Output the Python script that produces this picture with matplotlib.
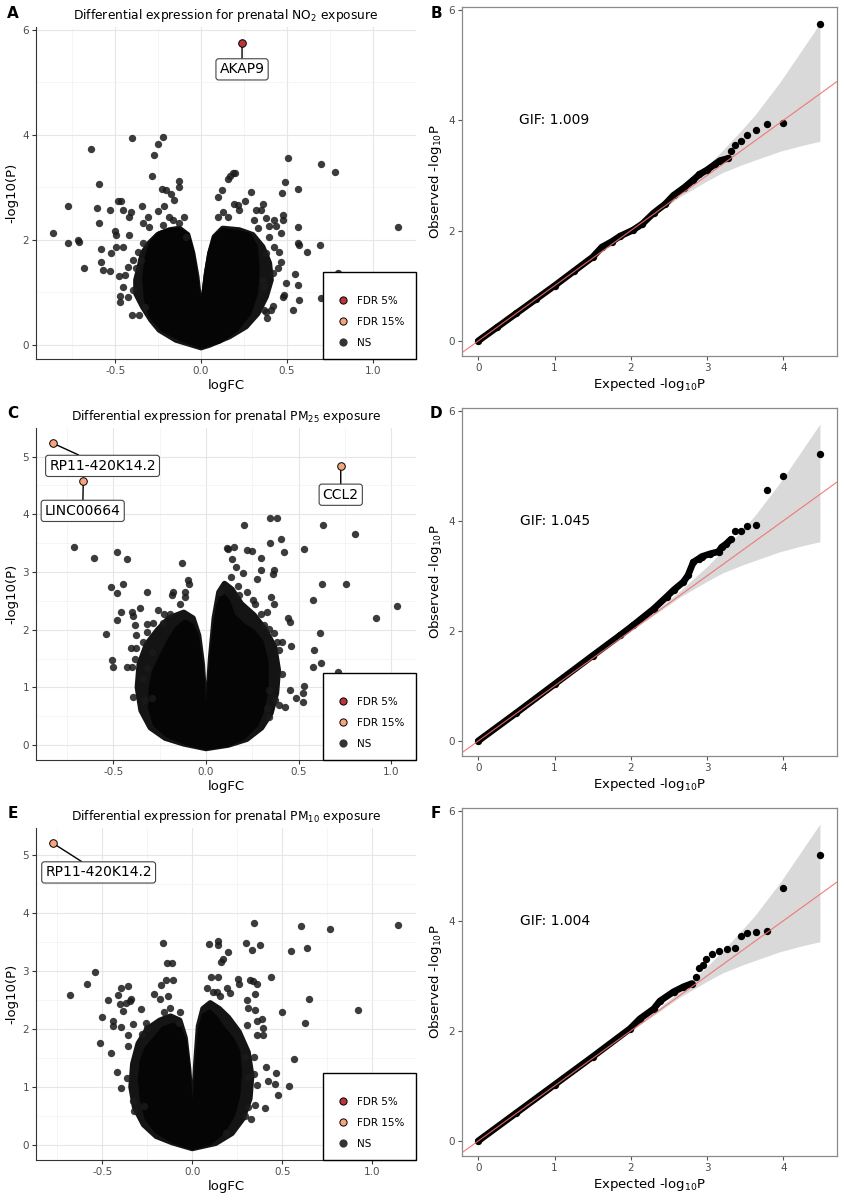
import matplotlib
matplotlib.use('Agg')
import matplotlib.pyplot as plt
from matplotlib.lines import Line2D
from matplotlib.ticker import MultipleLocator

plt.rcParams['font.family'] = 'DejaVu Sans'
plt.rcParams['mathtext.default'] = 'regular'

# ---- volcano data (logFC, -log10 P) ----
# NO2: scattered points outside the dense core
no2_fc = [-0.86, -0.775, -0.775, -0.718, -0.709, -0.68, -0.639, -0.606, -0.596, -0.592,
          -0.583, -0.583, -0.573, -0.53, -0.526, -0.53, -0.501, -0.495, -0.485, -0.466,
          -0.452, -0.495, -0.48, -0.472, -0.472, -0.452, -0.421, -0.408, -0.404, -0.417,
          -0.398, -0.427, -0.441, -0.456, -0.402, -0.363, -0.344, -0.34, -0.34, -0.369,
          -0.35, -0.379, -0.398, -0.427, -0.326, -0.311, -0.301, -0.285, -0.272, -0.249,
          -0.223, -0.252, -0.227, -0.204, -0.214, -0.175, -0.155, -0.13, -0.13, -0.165,
          -0.097, -0.126, -0.184, -0.223, -0.087,
          0.097, 0.12, 0.157, 0.169, 0.188, 0.2, 0.097, 0.126, 0.155, 0.194,
          0.217, 0.291, 0.256, 0.223, 0.32, 0.35, 0.363, 0.379, 0.427, 0.311,
          0.33, 0.398, 0.437, 0.466, 0.48, 0.48, 0.47, 0.489, 0.509, 0.567,
          0.563, 0.565, 0.573, 0.616, 0.699, 0.695, 0.783, 0.548, 0.563, 0.573,
          0.534, 0.495, 0.485, 0.476, 0.421, 0.382, 0.379, 0.408, 0.365, 0.466,
          0.447, 0.456, 0.427, 0.398, 0.417, 0.379, 0.359, 0.369, 0.699, 1.146, 0.8]
no2_p = [2.14, 2.65, 1.94, 2.0, 1.97, 1.47, 3.73, 2.60, 3.07, 2.32,
         1.83, 1.59, 1.43, 2.57, 1.76, 1.40, 2.17, 2.10, 2.74, 2.74,
         2.57, 1.87, 1.31, 0.93, 0.81, 1.87, 2.44, 2.54, 3.95, 2.10,
         1.62, 1.49, 1.33, 1.11, 0.57, 0.57, 2.65, 2.32, 1.94, 1.78,
         1.62, 1.46, 1.05, 0.92, 0.73, 2.44, 2.25, 3.21, 3.62, 3.83,
         3.96, 2.56, 2.98, 2.95, 2.65, 2.88, 2.77, 3.13, 3.0, 2.38,
         2.43, 2.33, 2.44, 2.29, 2.06,
         2.81, 2.95, 3.16, 3.21, 3.28, 3.28, 2.44, 2.54, 2.44, 2.69,
         2.67, 2.91, 2.75, 2.57, 2.58, 2.58, 2.69, 2.41, 2.38, 2.38,
         2.22, 2.27, 2.27, 2.13, 2.48, 2.39, 2.89, 3.10, 3.57, 2.97,
         2.24, 1.95, 1.90, 1.78, 3.45, 1.90, 3.29, 1.35, 1.15, 0.85,
         0.67, 1.19, 0.95, 0.92, 0.75, 0.51, 0.63, 0.67, 0.67, 1.59,
         1.46, 1.78, 1.87, 2.06, 1.37, 1.75, 1.24, 1.11, 0.90, 2.25, 1.38]
# outline of the crowded fringe and of the fully overlapped core
no2_fringe_fc = [0.0, -0.146, -0.243, -0.291, -0.34, -0.379, -0.379, -0.359, -0.34, -0.301,
                 -0.252, -0.184, -0.126, -0.078, -0.049, -0.025, -0.01, 0.0, 0.014, 0.033,
                 0.052, 0.078, 0.126, 0.223, 0.301, 0.359, 0.398, 0.408, 0.379, 0.33,
                 0.262, 0.165, 0.049]
no2_fringe_p = [-0.05, 0.095, 0.286, 0.476, 0.73, 0.98, 1.24, 1.49, 1.75, 1.94,
                2.10, 2.19, 2.22, 2.10, 1.75, 1.30, 0.857, 0.41, 0.857, 1.37,
                1.75, 2.06, 2.22, 2.19, 2.10, 1.87, 1.56, 1.24, 0.92, 0.60,
                0.35, 0.16, 0.0]
no2_core_fc = [0.0, -0.107, -0.223, -0.291, -0.32, -0.33, -0.32, -0.291, -0.243, -0.184,
               -0.126, -0.078, -0.049, -0.029, -0.01, 0.0, 0.01, 0.029, 0.049, 0.078,
               0.126, 0.204, 0.281, 0.32, 0.33, 0.32, 0.281, 0.204, 0.107]
no2_core_p = [-0.03, 0.095, 0.286, 0.54, 0.857, 1.24, 1.62, 1.94, 2.13, 2.19,
              2.19, 2.1, 1.75, 1.30, 0.857, 0.41, 0.857, 1.37, 1.75, 2.06,
              2.19, 2.16, 2.1, 1.87, 1.43, 0.98, 0.60, 0.286, 0.064]

# PM2.5
pm25_fc = [-0.71, -0.604, -0.48, -0.426, -0.51, -0.45, -0.482, -0.478, -0.46, -0.54,
           -0.505, -0.504, -0.428, -0.392, -0.401, -0.392, -0.356, -0.32, -0.383, -0.378,
           -0.405, -0.378, -0.385, -0.401, -0.338, -0.32, -0.317, -0.257, -0.225, -0.293,
           -0.32, -0.338, -0.329, -0.293, -0.129, -0.095, -0.09, -0.176, -0.185, -0.113,
           -0.14, -0.113, -0.194, -0.234, -0.284,
           0.203, 0.345, 0.383, 0.344, 0.405, 0.423, 0.112, 0.121, 0.151, 0.219,
           0.25, 0.138, 0.16, 0.201, 0.295, 0.295, 0.369, 0.36, 0.273, 0.133,
           0.174, 0.18, 0.076, 0.219, 0.255, 0.264, 0.349, 0.367, 0.327, 0.297,
           0.315, 0.342, 0.369, 0.381, 0.408, 0.396, 0.459, 0.444, 0.453, 0.527,
           0.631, 0.804, 0.624, 0.755, 0.579, 0.617, 0.583, 0.622, 0.579, 0.712,
           0.915, 1.032, 0.529, 0.522, 0.484, 0.522, 0.453, 0.412, 0.396, 0.426,
           0.342, 0.327, 0.372, 0.342]
pm25_p = [3.44, 3.25, 3.35, 3.23, 2.74, 2.80, 2.63, 2.17, 2.30, 1.92,
          1.47, 1.35, 1.36, 0.84, 2.31, 2.23, 2.38, 2.66, 2.08, 1.91,
          1.69, 1.68, 1.49, 1.35, 1.78, 2.10, 1.96, 2.34, 2.27, 1.62,
          1.33, 1.16, 0.78, 0.81, 3.15, 2.86, 2.80, 2.66, 2.60, 2.57,
          2.45, 2.66, 2.28, 2.11, 2.11,
          3.82, 3.93, 3.94, 3.51, 3.57, 3.34, 3.41, 3.40, 3.44, 3.39,
          3.37, 3.23, 3.08, 2.98, 3.24, 3.03, 3.04, 2.96, 2.87, 2.91,
          2.75, 2.60, 2.66, 2.66, 2.51, 2.45, 2.56, 2.44, 2.31, 2.28,
          2.08, 2.02, 1.95, 1.79, 1.79, 1.65, 1.72, 2.21, 2.14, 3.40,
          3.82, 3.66, 2.79, 2.79, 2.51, 1.95, 1.65, 1.43, 1.35, 1.27,
          2.20, 2.41, 1.03, 0.91, 0.82, 0.74, 0.95, 1.23, 0.70, 0.66,
          0.48, 0.64, 0.78, 0.95]
pm25_fringe_fc = [0.0, -0.12, -0.22, -0.3, -0.35, -0.37, -0.36, -0.32, -0.26, -0.2,
                  -0.12, -0.07, -0.04, -0.02, -0.008, 0.0, 0.01, 0.025, 0.045, 0.07,
                  0.1, 0.14, 0.19, 0.26, 0.32, 0.37, 0.39, 0.38, 0.35, 0.3,
                  0.22, 0.12]
pm25_fringe_p = [-0.06, 0.02, 0.12, 0.3, 0.6, 1.0, 1.4, 1.75, 2.0, 2.2,
                 2.3, 2.2, 1.9, 1.4, 0.8, 0.35, 0.8, 1.5, 2.2, 2.65,
                 2.8, 2.7, 2.45, 2.25, 2.0, 1.7, 1.3, 0.9, 0.55, 0.3,
                 0.1, 0.0]
pm25_core_fc = [0.0, -0.104, -0.212, -0.275, -0.302, -0.299, -0.281, -0.248, -0.203, -0.158,
                -0.113, -0.077, -0.05, -0.032, -0.018, -0.011, -0.002, 0.004, 0.013, 0.031,
                0.049, 0.067, 0.09, 0.12, 0.147, 0.201, 0.255, 0.30, 0.327, 0.327,
                0.309, 0.273, 0.201, 0.112]
pm25_core_p = [-0.05, 0.03, 0.17, 0.35, 0.64, 0.98, 1.27, 1.50, 1.79, 2.02,
               2.14, 2.08, 1.91, 1.56, 1.16, 0.69, 0.29, 0.29, 0.87, 1.56,
               2.08, 2.43, 2.60, 2.49, 2.25, 2.08, 1.97, 1.79, 1.45, 0.98,
               0.64, 0.35, 0.12, 0.0]

# PM10
pm10_fc = [-0.68, -0.583, -0.539, -0.511, -0.502, -0.47, -0.454, -0.443, -0.439, -0.42,
           -0.411, -0.402, -0.398, -0.396, -0.383, -0.37, -0.359, -0.398, -0.359, -0.356,
           -0.365, -0.346, -0.328, -0.343, -0.328, -0.324, -0.285, -0.281, -0.269, -0.257,
           -0.254, -0.213, -0.18, -0.176, -0.165, -0.159, -0.148, -0.143, -0.133, -0.111,
           -0.109, -0.124, -0.069, -0.072,
           0.093, 0.141, 0.144, 0.2, 0.169, 0.157, 0.102, 0.141, 0.08, 0.117,
           0.135, 0.154, 0.191, 0.209, 0.256, 0.261, 0.298, 0.33, 0.344, 0.376,
           0.32, 0.339, 0.357, 0.348, 0.302, 0.311, 0.348, 0.385, 0.391, 0.357,
           0.357, 0.394, 0.306, 0.437, 0.498, 0.546, 0.604, 0.637, 0.646, 0.624,
           0.765, 0.922, 1.141, 0.567, 0.535, 0.478, 0.463, 0.461, 0.422, 0.407,
           0.343, 0.311, 0.357, 0.406, 0.348, 0.311, 0.324, 0.293, 0.185, 0.293,
           0.343]
pm10_p = [2.59, 2.77, 2.98, 1.75, 2.21, 2.5, 1.59, 2.14, 2.05, 1.25,
          2.59, 2.43, 2.70, 0.99, 2.31, 2.44, 2.74, 2.04, 1.90, 1.70,
          1.16, 2.48, 2.08, 2.52, 0.76, 0.59, 2.34, 1.91, 0.67, 2.10,
          2.01, 2.60, 2.52, 2.76, 3.49, 2.29, 2.84, 3.14, 2.57, 3.13,
          2.84, 2.36, 2.29, 2.11,
          3.46, 3.51, 3.45, 3.32, 3.21, 3.16, 2.89, 2.89, 2.71, 2.64,
          2.64, 2.57, 2.70, 2.62, 2.86, 2.78, 3.48, 3.36, 3.82, 3.44,
          2.84, 2.82, 2.78, 2.60, 2.5, 2.36, 2.33, 2.17, 2.01, 2.13,
          1.90, 1.90, 2.07, 2.89, 2.29, 3.35, 3.77, 3.40, 2.51, 2.11,
          3.72, 2.33, 3.79, 1.48, 1.02, 0.86, 1.24, 1.06, 1.11, 1.34,
          1.22, 1.17, 1.03, 0.63, 0.69, 0.66, 0.44, 0.50, 0.21, 1.51,
          1.52]
pm10_fringe_fc = [0.0, -0.11, -0.2, -0.27, -0.32, -0.34, -0.33, -0.3, -0.25, -0.18,
                  -0.12, -0.07, -0.04, -0.02, -0.006, 0.0, 0.008, 0.02, 0.035, 0.06,
                  0.1, 0.15, 0.2, 0.26, 0.31, 0.33, 0.32, 0.28, 0.22, 0.13]
pm10_fringe_p = [-0.06, 0.04, 0.15, 0.35, 0.65, 1.0, 1.4, 1.75, 2.0, 2.15,
                 2.22, 2.15, 1.85, 1.3, 0.7, 0.3, 0.7, 1.4, 2.05, 2.35,
                 2.45, 2.35, 2.2, 1.95, 1.6, 1.2, 0.8, 0.45, 0.2, 0.03]
pm10_core_fc = [0.0, -0.106, -0.198, -0.254, -0.281, -0.291, -0.281, -0.254, -0.207, -0.161,
                -0.106, -0.069, -0.041, -0.022, -0.009, -0.004, 0.006, 0.015, 0.028, 0.043,
                0.065, 0.098, 0.135, 0.172, 0.219, 0.256, 0.265, 0.256, 0.228, 0.172,
                0.098]
pm10_core_p = [-0.05, 0.06, 0.23, 0.46, 0.80, 1.15, 1.44, 1.67, 1.84, 2.01,
               2.07, 2.01, 1.78, 1.32, 0.75, 0.34, 0.34, 0.86, 1.49, 2.01,
               2.24, 2.30, 2.18, 2.01, 1.84, 1.61, 1.26, 0.86, 0.52, 0.23,
               0.03]

# significant genes
no2_hit_names = ['AKAP9']
no2_hit_fc = [0.239]
no2_hit_p = [5.76]
no2_hit_class = ['FDR 5%']

pm25_hit_names = ['RP11-420K14.2', 'LINC00664', 'CCL2']
pm25_hit_fc = [-0.824, -0.662, 0.727]
pm25_hit_p = [5.23, 4.57, 4.83]
pm25_hit_class = ['FDR 15%', 'FDR 15%', 'FDR 15%']

pm10_hit_names = ['RP11-420K14.2']
pm10_hit_fc = [-0.772]
pm10_hit_p = [5.20]
pm10_hit_class = ['FDR 15%']

# ---- QQ data (expected, observed -log10 P) ----
no2_exp = [0, 0.25, 0.5, 0.75, 1.0, 1.25, 1.5, 1.62, 1.75, 1.86, 2.03, 2.15, 2.30, 2.45,
           2.56, 2.70, 2.82, 2.90, 3.0, 3.10, 3.17, 3.28,
           3.31, 3.37, 3.44, 3.53, 3.64, 3.78, 4.0, 4.48]
no2_obs = [0, 0.25, 0.5, 0.75, 1.0, 1.26, 1.52, 1.70, 1.80, 1.90, 2.01, 2.12, 2.32, 2.48,
           2.64, 2.78, 2.92, 3.02, 3.10, 3.20, 3.27, 3.31,
           3.45, 3.56, 3.62, 3.74, 3.83, 3.94, 3.95, 5.75]
no2_dense = 22

pm25_exp = [0, 0.5, 1.0, 1.5, 1.86, 2.03, 2.30, 2.47, 2.56, 2.69, 2.75, 2.82, 2.89, 2.93,
            3.04, 3.15, 3.19, 3.25, 3.31,
            3.37, 3.44, 3.53, 3.64, 3.78, 4.0, 4.48]
pm25_obs = [0, 0.51, 1.03, 1.55, 1.92, 2.10, 2.40, 2.62, 2.74, 2.89, 3.01, 3.25, 3.31, 3.35,
            3.40, 3.44, 3.52, 3.58, 3.66,
            3.81, 3.81, 3.90, 3.93, 4.56, 4.81, 5.21]
pm25_dense = 19

pm10_exp = [0, 0.5, 1.0, 1.5, 1.99, 2.12, 2.30, 2.38, 2.56, 2.69, 2.80,
            2.85, 2.89, 2.95, 2.99, 3.06, 3.15, 3.26, 3.37, 3.44, 3.53, 3.64, 3.78, 4.0, 4.48]
pm10_obs = [0, 0.51, 1.02, 1.53, 2.04, 2.22, 2.40, 2.54, 2.71, 2.80, 2.86,
            2.98, 3.14, 3.19, 3.31, 3.40, 3.46, 3.48, 3.50, 3.72, 3.77, 3.79, 3.82, 4.60, 5.20]
pm10_dense = 11

# confidence band shared by the three QQ plots
band_x = [0, 1.0, 2.0, 2.3, 2.65, 3.0, 3.2, 3.43, 3.63, 3.96, 4.26, 4.48]
band_hi = [0, 1.01, 2.02, 2.34, 2.73, 3.17, 3.45, 3.79, 4.10, 4.70, 5.31, 5.76]
band_lo = [0, 0.99, 1.99, 2.28, 2.62, 2.90, 3.05, 3.18, 3.28, 3.44, 3.55, 3.62]

gif_values = ['1.009', '1.045', '1.004']

class_colors = {'FDR 5%': '#b8353c', 'FDR 15%': '#f4a57c', 'NS': '#333333'}

W, H = 844, 1200
fig = plt.figure(figsize=(W / 100, H / 100), dpi=100)


def px_axes(left, top, right, bottom):
    return fig.add_axes([left / W, 1 - bottom / H, (right - left) / W, (bottom - top) / H])


def volcano(ax, fc, p, fringe_fc, fringe_p, core_fc, core_p, names, hfc, hp, hcls, offsets,
            title, xlim, ylim, ymajor):
    ax.set_axisbelow(True)
    ax.fill(fringe_fc, fringe_p, color='#141414', lw=4, ec='#141414', joinstyle='round', zorder=2)
    ax.fill(core_fc, core_p, color='#050505', lw=3, ec='#050505', joinstyle='round', zorder=2.5)
    ax.scatter(fc, p, s=28, color='#1a1a1a', alpha=0.85, lw=0, zorder=3)
    for name, x, y, c, (lx, ly) in zip(names, hfc, hp, hcls, offsets):
        ax.annotate(name, xy=(x, y), xytext=(lx, ly), ha='center', va='center', fontsize=10,
                    bbox=dict(boxstyle='round,pad=0.26,rounding_size=0.2', fc='white',
                              ec='#444444', lw=0.8),
                    arrowprops=dict(arrowstyle='-', color='black', lw=1.0,
                                    shrinkA=0, shrinkB=0), zorder=5)
        ax.scatter([x], [y], s=30, color=class_colors[c], edgecolors='black', lw=0.7, zorder=6)
    ax.set_xlim(xlim)
    ax.set_ylim(ylim)
    ax.xaxis.set_major_locator(MultipleLocator(0.5))
    ax.xaxis.set_minor_locator(MultipleLocator(0.25))
    ax.yaxis.set_major_locator(MultipleLocator(ymajor))
    ax.yaxis.set_minor_locator(MultipleLocator(ymajor / 2))
    ax.grid(which='major', color='#e6e6e6', lw=0.8)
    ax.grid(which='minor', color='#f2f2f2', lw=0.5)
    ax.tick_params(which='minor', length=0)
    ax.tick_params(which='major', length=3, color='#333333', labelsize=7.5,
                   labelcolor='#4d4d4d', width=0.8, pad=2)
    for s in ['top', 'right']:
        ax.spines[s].set_visible(False)
    for s in ['left', 'bottom']:
        ax.spines[s].set_color('#333333')
        ax.spines[s].set_linewidth(0.8)
    ax.set_xticklabels([('%.1f' % t) for t in ax.get_xticks()])
    ax.set_xlabel('logFC', fontsize=9.5, labelpad=2)
    ax.set_ylabel('-log10(P)', fontsize=9.5, labelpad=3)
    ax.set_title(title, fontsize=8.8, pad=6)
    handles = [Line2D([], [], marker='o', ls='none', markersize=5.2,
                      markerfacecolor=class_colors[k],
                      markeredgecolor='black' if k != 'NS' else '#333333', markeredgewidth=0.7)
               for k in ['FDR 5%', 'FDR 15%', 'NS']]
    leg = ax.legend(handles, ['FDR 5%', 'FDR 15%', 'NS'], loc='lower right',
                    bbox_to_anchor=(1.0, 0.0), borderaxespad=0, fontsize=7.5,
                    title=' ', title_fontsize=1, frameon=True, fancybox=False,
                    edgecolor='black', framealpha=1, labelspacing=1.05, borderpad=1.1,
                    handlelength=1.6, handletextpad=0.6)
    leg.get_frame().set_linewidth(1.0)
    leg.set_zorder(10)


def qq(ax, exp, obs, dense, gif):
    ax.fill_between(band_x, band_lo, band_hi, color='#d9d9d9', lw=0, zorder=1)
    ax.plot(exp[:dense], obs[:dense], color='black', lw=4.8, solid_capstyle='round',
            solid_joinstyle='round', zorder=2)
    ax.scatter(exp, obs, s=28, color='black', lw=0, zorder=3)
    ax.axline((0, 0), slope=1, color='#ef6f6a', lw=0.8, alpha=0.9, zorder=4)
    ax.set_xlim(-0.218, 4.70)
    ax.set_ylim(-0.275, 6.05)
    ax.xaxis.set_major_locator(MultipleLocator(1))
    ax.yaxis.set_major_locator(MultipleLocator(2))
    ax.text(1.0, 4.0, 'GIF: ' + gif, fontsize=10, ha='center', va='center')
    ax.tick_params(length=3, color='#555555', labelsize=7.5, labelcolor='#4d4d4d',
                   width=0.8, pad=2)
    for s in ax.spines.values():
        s.set_color('#8a8a8a')
        s.set_linewidth(0.9)
    ax.set_xlabel('Expected -log$_{10}$P', fontsize=9.5, labelpad=2)
    ax.set_ylabel('Observed -log$_{10}$P', fontsize=9.5, labelpad=3)


axA = px_axes(36, 27, 416, 359)
volcano(axA, no2_fc, no2_p, no2_fringe_fc, no2_fringe_p, no2_core_fc, no2_core_p,
        no2_hit_names, no2_hit_fc, no2_hit_p, no2_hit_class, [(0.239, 5.25)],
        'Differential expression for prenatal NO$_2$ exposure',
        (-0.961, 1.252), (-0.267, 6.057), 2)

axC = px_axes(36, 428, 416, 760)
volcano(axC, pm25_fc, pm25_p, pm25_fringe_fc, pm25_fringe_p, pm25_core_fc, pm25_core_p,
        pm25_hit_names, pm25_hit_fc, pm25_hit_p, pm25_hit_class,
        [(-0.558, 4.84), (-0.665, 4.06), (0.727, 4.34)],
        'Differential expression for prenatal PM$_{25}$ exposure',
        (-0.917, 1.133), (-0.26, 5.497), 1)

axE = px_axes(36, 828, 416, 1160)
volcano(axE, pm10_fc, pm10_p, pm10_fringe_fc, pm10_fringe_p, pm10_core_fc, pm10_core_p,
        pm10_hit_names, pm10_hit_fc, pm10_hit_p, pm10_hit_class, [(-0.52, 4.70)],
        'Differential expression for prenatal PM$_{10}$ exposure',
        (-0.868, 1.243), (-0.259, 5.466), 1)

axB = px_axes(461.7, 7.3, 836.7, 356)
qq(axB, no2_exp, no2_obs, no2_dense, gif_values[0])
axD = px_axes(461.7, 408, 836.7, 756)
qq(axD, pm25_exp, pm25_obs, pm25_dense, gif_values[1])
axF = px_axes(461.7, 808, 836.7, 1156)
qq(axF, pm10_exp, pm10_obs, pm10_dense, gif_values[2])

for letter, x, y in [('A', 13, 14), ('B', 436, 14), ('C', 13, 414), ('D', 436, 414),
                     ('E', 13, 814), ('F', 436, 814)]:
    fig.text(x / W, 1 - y / H, letter, fontsize=11, fontweight='bold', ha='center', va='center')

fig.savefig('out.png', dpi=100)
